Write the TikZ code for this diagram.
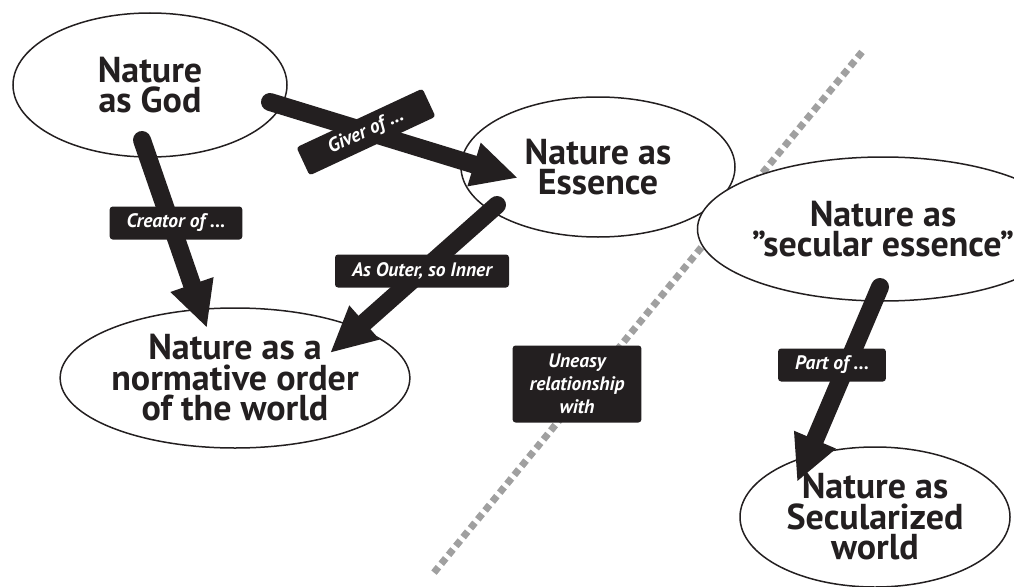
\documentclass[tikz,border=0pt]{standalone}
\usepackage{fontspec}
\setmainfont{PT Sans}
\usetikzlibrary{shapes.geometric,arrows.meta}
\definecolor{ink}{RGB}{35,31,32}
\definecolor{dotgray}{RGB}{160,160,160}

\tikzset{
  concept/.style={ellipse, draw=ink, line width=1.5pt, fill=white, inner sep=0pt,
    align=center, text=ink, font=\fontsize{36}{30.5}\selectfont\bfseries},
  bigarrow/.style={draw=ink, line width=18pt, line cap=round,
    -{Triangle[length=46pt,width=42pt]}},
  tag/.style={fill=ink, rounded corners=3pt, text=white, inner xsep=17pt,
    minimum height=33pt, align=center,
    font=\fontsize{19.5}{23}\selectfont\bfseries\itshape}
}

\begin{document}
\begin{tikzpicture}[x=1pt,y=-1pt]
\useasboundingbox (0,0) rectangle (1014,586);

% the divide
\coordinate (divtop) at (862,52);
\coordinate (divbot) at (432,575);
\draw[dotgray, line width=7pt, dash pattern=on 7pt off 4.5pt] (divtop) -- (divbot);

% concepts
\node[concept, minimum width=274pt, minimum height=144pt] (god) at (150,85) {Nature\\as God};
\node[concept, minimum width=274pt, minimum height=140pt] (essence) at (598,167) {Nature as\\Essence};
\node[concept, minimum width=276pt, minimum height=140pt] (order) at (235,378) {Nature as a\\normative order\\of the world};
\node[concept, minimum width=250pt, minimum height=144pt] (secular) at (883,229) {Nature as\\”secular essence”};
\node[concept, minimum width=270pt, minimum height=140pt] (world) at (875,517) {Nature as\\Secularized\\world};

% end points of the arrows
\coordinate (giverS) at (270,102);
\coordinate (giverE) at (518,178);
\coordinate (creatorS) at (142,140);
\coordinate (creatorE) at (207,328);
\coordinate (outerS) at (497,205);
\coordinate (outerE) at (330,353);
\coordinate (partS) at (880,287);
\coordinate (partE) at (797,482);

\draw[bigarrow] (giverS) -- (giverE);
\draw[bigarrow] (creatorS) -- (creatorE);
\draw[bigarrow] (outerS) -- (outerE);
\draw[bigarrow] (partS) -- (partE);

% labels
\node[tag, rotate=25, minimum width=139pt, minimum height=31pt] (giver) at (366,132) {Giver of ...};
\node[tag] (creator) at (176,223) {Creator of ...};
\node[tag] (outer) at (422,271) {As Outer, so Inner};
\node[tag, minimum height=77pt] (uneasy) at (577,384) {Uneasy\\relationship\\with};
\node[tag] (part) at (832,365) {Part of ...};
\end{tikzpicture}
\end{document}
